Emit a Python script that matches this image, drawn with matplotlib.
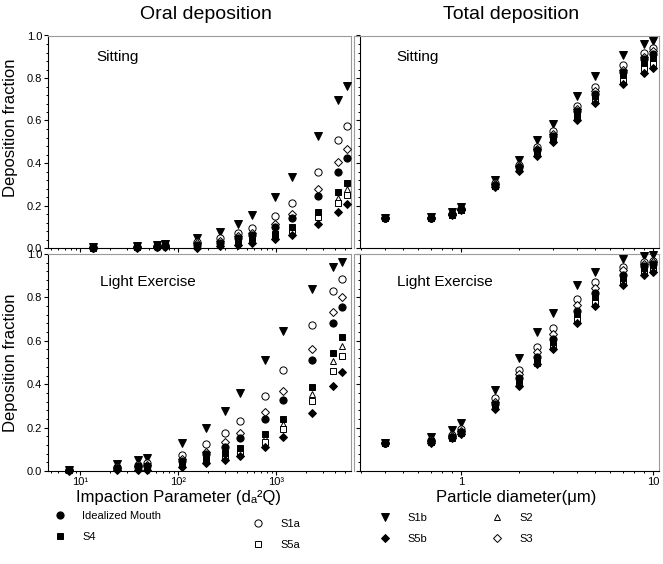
import matplotlib
matplotlib.use('Agg')
import matplotlib.pyplot as plt
from matplotlib.lines import Line2D
from matplotlib.ticker import LogLocator, NullFormatter, MultipleLocator, FormatStrFormatter, FuncFormatter
import math

plt.rcParams['font.family'] = ['Liberation Sans', 'DejaVu Sans']

# ---------------- data ----------------
series = ['Idealized Mouth', 'S1a', 'S1b', 'S2', 'S3', 'S4', 'S5a', 'S5b']

# Oral deposition, sitting: impaction parameter
ip_sit = [13.7, 38, 61, 74, 155, 268, 405, 564, 980, 1466, 2690, 4320, 5250]
oral_sit = {
    'S1b':             [0.005, 0.008, 0.015, 0.02, 0.046, 0.077, 0.113, 0.156, 0.242, 0.336, 0.528, 0.695, 0.764],
    'S1a':             [0.003, 0.005, 0.010, 0.012, 0.030, 0.046, 0.069, 0.093, 0.151, 0.214, 0.360, 0.506, 0.575],
    'S3':              [0.003, 0.004, 0.008, 0.010, 0.022, 0.032, 0.055, 0.069, 0.113, 0.162, 0.280, 0.404, 0.467],
    'Idealized Mouth': [0.002, 0.004, 0.007, 0.010, 0.012, 0.022, 0.046, 0.061, 0.097, 0.140, 0.247, 0.360, 0.423],
    'S4':              [0.003, 0.008, 0.014, 0.018, 0.010, 0.020, 0.036, 0.050, 0.066, 0.097, 0.171, 0.263, 0.308],
    'S2':              [0.002, 0.005, 0.010, 0.013, 0.012, 0.020, 0.035, 0.048, 0.070, 0.092, 0.153, 0.235, 0.280],
    'S5a':             [0.002, 0.006, 0.012, 0.015, 0.010, 0.018, 0.030, 0.045, 0.060, 0.085, 0.145, 0.214, 0.250],
    'S5b':             [0.001, 0.002, 0.004, 0.005, 0.000, 0.010, 0.014, 0.025, 0.041, 0.061, 0.112, 0.171, 0.208],
}

# Oral deposition, light exercise
ip_ex = [7.8, 23.7, 39, 48.6, 109, 192, 302, 429, 773, 1188, 2310, 3780, 4680]
oral_ex = {
    'S1b':             [0.005, 0.030, 0.050, 0.058, 0.128, 0.200, 0.278, 0.358, 0.512, 0.647, 0.837, 0.940, 0.965],
    'S1a':             [0.005, 0.018, 0.028, 0.035, 0.076, 0.124, 0.177, 0.232, 0.347, 0.465, 0.673, 0.830, 0.885],
    'S3':              [0.004, 0.015, 0.022, 0.028, 0.055, 0.089, 0.132, 0.177, 0.270, 0.370, 0.561, 0.735, 0.800],
    'Idealized Mouth': [0.003, 0.012, 0.018, 0.022, 0.045, 0.078, 0.109, 0.154, 0.238, 0.327, 0.512, 0.680, 0.755],
    'S4':              [0.005, 0.015, 0.020, 0.022, 0.033, 0.063, 0.081, 0.107, 0.169, 0.238, 0.389, 0.545, 0.618],
    'S2':              [0.004, 0.012, 0.018, 0.020, 0.030, 0.056, 0.075, 0.098, 0.150, 0.217, 0.355, 0.505, 0.578],
    'S5a':             [0.008, 0.014, 0.023, 0.025, 0.028, 0.050, 0.068, 0.089, 0.135, 0.194, 0.324, 0.462, 0.532],
    'S5b':             [0.002, 0.004, 0.004, 0.005, 0.020, 0.035, 0.051, 0.069, 0.109, 0.155, 0.266, 0.392, 0.455],
}

# Total deposition: particle diameter (um)
diam = [0.4, 0.7, 0.9, 1.0, 1.5, 2.0, 2.5, 3.0, 4.0, 5.0, 7.0, 9.0, 10.0]
total_sit = {
    'S1b':             [0.140, 0.145, 0.170, 0.195, 0.320, 0.415, 0.506, 0.583, 0.717, 0.808, 0.910, 0.961, 0.976],
    'S1a':             [0.140, 0.140, 0.162, 0.185, 0.305, 0.392, 0.475, 0.549, 0.670, 0.758, 0.860, 0.917, 0.942],
    'S3':              [0.140, 0.140, 0.160, 0.183, 0.300, 0.385, 0.465, 0.535, 0.652, 0.738, 0.838, 0.900, 0.925],
    'Idealized Mouth': [0.140, 0.140, 0.158, 0.182, 0.297, 0.381, 0.459, 0.525, 0.643, 0.726, 0.827, 0.890, 0.913],
    'S4':              [0.140, 0.140, 0.157, 0.180, 0.294, 0.376, 0.452, 0.517, 0.632, 0.714, 0.812, 0.870, 0.895],
    'S2':              [0.140, 0.140, 0.157, 0.180, 0.292, 0.373, 0.448, 0.512, 0.625, 0.706, 0.802, 0.860, 0.885],
    'S5a':             [0.140, 0.140, 0.156, 0.179, 0.290, 0.370, 0.443, 0.507, 0.617, 0.697, 0.790, 0.848, 0.872],
    'S5b':             [0.140, 0.140, 0.155, 0.177, 0.287, 0.363, 0.434, 0.497, 0.604, 0.682, 0.772, 0.824, 0.848],
}
total_ex = {
    'S1b':             [0.130, 0.158, 0.189, 0.220, 0.373, 0.519, 0.642, 0.730, 0.857, 0.919, 0.975, 0.990, 0.995],
    'S1a':             [0.130, 0.143, 0.166, 0.193, 0.335, 0.465, 0.573, 0.657, 0.791, 0.870, 0.942, 0.962, 0.968],
    'S3':              [0.130, 0.140, 0.162, 0.186, 0.320, 0.445, 0.548, 0.630, 0.765, 0.845, 0.925, 0.955, 0.963],
    'Idealized Mouth': [0.130, 0.138, 0.158, 0.180, 0.309, 0.427, 0.524, 0.607, 0.738, 0.818, 0.904, 0.945, 0.955],
    'S4':              [0.130, 0.136, 0.156, 0.178, 0.302, 0.418, 0.513, 0.594, 0.722, 0.800, 0.890, 0.935, 0.948],
    'S2':              [0.130, 0.135, 0.155, 0.177, 0.298, 0.412, 0.507, 0.587, 0.713, 0.790, 0.882, 0.930, 0.943],
    'S5a':             [0.130, 0.134, 0.154, 0.175, 0.294, 0.405, 0.500, 0.578, 0.702, 0.780, 0.872, 0.920, 0.935],
    'S5b':             [0.130, 0.130, 0.150, 0.171, 0.284, 0.392, 0.492, 0.561, 0.680, 0.760, 0.857, 0.904, 0.918],
}

titles = ['Oral deposition', 'Total deposition']
panel_labels = ['Sitting', 'Light Exercise']

# ---------------- styles ----------------
style = {
    'Idealized Mouth': dict(marker='o', filled=True, ms=5.2),
    'S1a':             dict(marker='o', filled=False, ms=5.2),
    'S1b':             dict(marker='v', filled=True, ms=5.6),
    'S2':              dict(marker='^', filled=False, ms=5.0),
    'S3':              dict(marker='D', filled=False, ms=4.3),
    'S4':              dict(marker='s', filled=True, ms=4.6),
    'S5a':             dict(marker='s', filled=False, ms=4.6),
    'S5b':             dict(marker='D', filled=True, ms=4.3),
}
draw_order = ['S1b', 'S1a', 'S3', 'S2', 'S5a', 'S4', 'Idealized Mouth', 'S5b']

W, H = 663, 564
fig = plt.figure(figsize=(W / 100, H / 100), dpi=100)

def ax_rect(x0, y0, x1, y1):
    return [x0 / W, 1 - y1 / H, (x1 - x0) / W, (y1 - y0) / H]

ax_tl = fig.add_axes(ax_rect(48, 35.5, 351, 248))
ax_tr = fig.add_axes(ax_rect(354, 35.5, 659, 248))
ax_bl = fig.add_axes(ax_rect(48, 254, 351, 471))
ax_br = fig.add_axes(ax_rect(354, 254, 659, 471))

frame_gray = '#9a9a9a'
SUP = str.maketrans('0123456789-', '⁰¹²³⁴⁵⁶⁷⁸⁹⁻')

def pow10_label(v, pos):
    e = int(round(math.log10(v)))
    return '10' + str(e).translate(SUP)

def plot_panel(ax, xs, data):
    for name in draw_order:
        st = style[name]
        ax.plot(xs, data[name], linestyle='none', marker=st['marker'], ms=st['ms'],
                markerfacecolor='black' if st['filled'] else 'white',
                markeredgecolor='black', markeredgewidth=0.7, clip_on=False, zorder=3)

def style_axes(ax, left_col, bottom_row):
    ax.set_xscale('log')
    ax.set_ylim(0, 1.0)
    ax.yaxis.set_major_locator(MultipleLocator(0.2))
    ax.yaxis.set_minor_locator(MultipleLocator(0.04))
    ax.yaxis.set_major_formatter(FormatStrFormatter('%.1f'))
    ax.xaxis.set_major_locator(LogLocator(base=10, numticks=10))
    ax.xaxis.set_minor_locator(LogLocator(base=10, subs=range(2, 10), numticks=20))
    ax.xaxis.set_minor_formatter(NullFormatter())
    for s in ['top', 'right']:
        ax.spines[s].set_color(frame_gray)
        ax.spines[s].set_linewidth(0.8)
    for s in ['left', 'bottom']:
        ax.spines[s].set_color('black')
        ax.spines[s].set_linewidth(0.8)
    ax.tick_params(which='major', direction='out', length=2.8, width=0.8, labelsize=8, pad=1.5)
    ax.tick_params(which='minor', direction='out', length=1.6, width=0.7)
    ax.tick_params(axis='x', which='major', pad=1.5, labelsize=8)
    if not left_col:
        ax.tick_params(axis='y', which='both', labelleft=False)
    if not bottom_row:
        ax.tick_params(axis='x', which='both', labelbottom=False)

# left column
for ax, xs, data, lab, lx, ly, yl in [(ax_tl, ip_sit, oral_sit, panel_labels[0], 0.158, 0.90, 0.565),
                                      (ax_bl, ip_ex, oral_ex, panel_labels[1], 0.172, 0.87, 0.50)]:
    plot_panel(ax, xs, data)
    style_axes(ax, True, ax is ax_bl)
    ax.set_xlim(4.71, 5820)
    ax.xaxis.set_major_formatter(FuncFormatter(pow10_label))
    ax.set_ylabel('Deposition fraction', fontsize=12)
    ax.yaxis.set_label_coords(-0.10, yl)
    ax.text(lx, ly, lab, transform=ax.transAxes, fontsize=11, va='center')

# right column
for ax, data, lab, lx, ly in [(ax_tr, total_sit, panel_labels[0], 0.138, 0.90),
                              (ax_br, total_ex, panel_labels[1], 0.141, 0.87)]:
    plot_panel(ax, diam, data)
    style_axes(ax, False, ax is ax_br)
    ax.set_xlim(0.277, 10.75)
    ax.xaxis.set_major_formatter(FuncFormatter(lambda v, p: '%g' % v))
    ax.spines['left'].set_position(('data', 0.298))
    ax.spines['bottom'].set_bounds(0.298, 10.75)
    ax.plot([0, 0], [0, 1], transform=ax.transAxes, color=frame_gray, lw=0.8, clip_on=False)
    ax.text(lx, ly, lab, transform=ax.transAxes, fontsize=11, va='center')

ax_tl.set_title(titles[0], fontsize=14, pad=12, x=0.52)
ax_tr.set_title(titles[1], fontsize=14, pad=12, x=0.515)
ax_bl.set_xlabel('Impaction Parameter (dₐ²Q)', fontsize=12, va='baseline')
ax_bl.xaxis.set_label_coords(0.432, -0.145)
ax_br.set_xlabel('Particle diameter(μm)', fontsize=12, va='baseline')
ax_br.xaxis.set_label_coords(0.531, -0.145)

# legend: four columns placed individually
def handle(name):
    st = style[name]
    return Line2D([], [], linestyle='none', marker=st['marker'], ms=st['ms'],
                  markerfacecolor='black' if st['filled'] else 'white',
                  markeredgecolor='black', markeredgewidth=0.7)

legend_cols = [(['Idealized Mouth', 'S4'], 54.5, 511),
               (['S1a', 'S5a'], 252.5, 519),
               (['S1b', 'S5b'], 379.5, 513),
               (['S2', 'S3'], 491.5, 513)]
for names, x0, y0 in legend_cols:
    fig.legend([handle(n) for n in names], names, loc='upper left',
               bbox_to_anchor=(x0 / W, 1 - y0 / H), frameon=False, fontsize=8,
               handlelength=1.0, handletextpad=1.5, labelspacing=1.0,
               borderpad=0, borderaxespad=0)

fig.savefig('out.png', dpi=100)
